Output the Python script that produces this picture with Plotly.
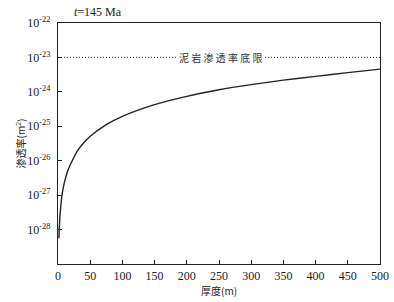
import plotly.graph_objects as go

# Data
thickness_m = [1.4, 2, 3, 4, 6, 8, 10, 15, 20, 30, 40, 50, 75, 100, 150, 200, 250, 300, 350, 400, 450, 500]
log10_perm = [-28.25, -27.95, -27.62, -27.4, -27.03, -26.8, -26.63, -26.3, -26.08, -25.72, -25.48,
              -25.29, -24.95, -24.71, -24.37, -24.13, -23.94, -23.79, -23.66, -23.55, -23.44, -23.34]
permeability = [10 ** v for v in log10_perm]

threshold_x = [0, 500]
threshold_perm = [1e-23, 1e-23]
threshold_label = "泥 岩 渗 透 率 底 限"
threshold_label_x = 253

x_ticks = [0, 50, 100, 150, 200, 250, 300, 350, 400, 450, 500]
y_tick_exp = [-22, -23, -24, -25, -26, -27, -28]
y_tickvals = [10 ** e for e in y_tick_exp]
y_ticktext = ["10<sup>%d</sup>" % e for e in y_tick_exp]

serif = "Liberation Serif, Times New Roman, serif"
cjk = "Noto Sans CJK SC, sans-serif"

W, H = 394, 302
L, R, T, B = 58, 14, 23, 38
pw, ph = W - L - R, H - T - B

fig = go.Figure()
fig.add_trace(go.Scatter(x=threshold_x, y=threshold_perm, mode="lines",
                         line=dict(color="#333", width=1, dash="1px,2px"), hoverinfo="skip"))
fig.add_trace(go.Scatter(x=thickness_m, y=permeability, mode="lines",
                         line=dict(color="#222", width=1.4, shape="spline", smoothing=0.6)))

fig.add_annotation(x=threshold_label_x, y=-23, xref="x", yref="y", text=threshold_label,
                   showarrow=False, bgcolor="white",
                   font=dict(family=cjk, size=10, color="#333"), borderpad=1)
fig.add_annotation(x=(72 - L) / pw, y=1 + (T - 12) / ph, xref="paper", yref="paper",
                   text="<i>t</i>=145 Ma", showarrow=False, xanchor="left", yanchor="middle",
                   font=dict(family=serif, size=12, color="#222"))
fig.add_annotation(x=-(L - 20) / pw, y=0.5, xref="paper", yref="paper",
                   text="渗透率(m<sup>2</sup>)", showarrow=False, textangle=-90,
                   xanchor="center", yanchor="middle",
                   font=dict(family=cjk, size=10, color="#222"))
fig.add_annotation(x=0.5, y=-(290 - T - ph) / ph, xref="paper", yref="paper",
                   text="厚度(m)", showarrow=False, xanchor="center", yanchor="middle",
                   font=dict(family=cjk, size=10, color="#222"))

fig.update_layout(
    width=W, height=H,
    margin=dict(l=L, r=R, t=T, b=B, autoexpand=False),
    paper_bgcolor="white", plot_bgcolor="white",
    showlegend=False,
)

fig.update_xaxes(range=[0, 500], tickvals=x_ticks, ticks="inside", ticklen=4, tickwidth=1,
                 tickcolor="#222", showline=True, linecolor="#222", linewidth=1.2, mirror=True,
                 showgrid=False, zeroline=False, automargin=False,
                 tickfont=dict(family=serif, size=12, color="#222"))
fig.update_yaxes(type="log", range=[-29, -22], tickvals=y_tickvals, ticktext=y_ticktext,
                 ticks="inside", ticklen=4, tickwidth=1, tickcolor="#222",
                 showline=True, linecolor="#222", linewidth=1.2, mirror=True,
                 showgrid=False, zeroline=False, automargin=False, ticklabelstandoff=4,
                 tickfont=dict(family=serif, size=12, color="#222"))

fig.write_html("out.html", config={"displayModeBar": False},
               post_script="document.body.style.margin='0';document.body.style.overflow='hidden';")
